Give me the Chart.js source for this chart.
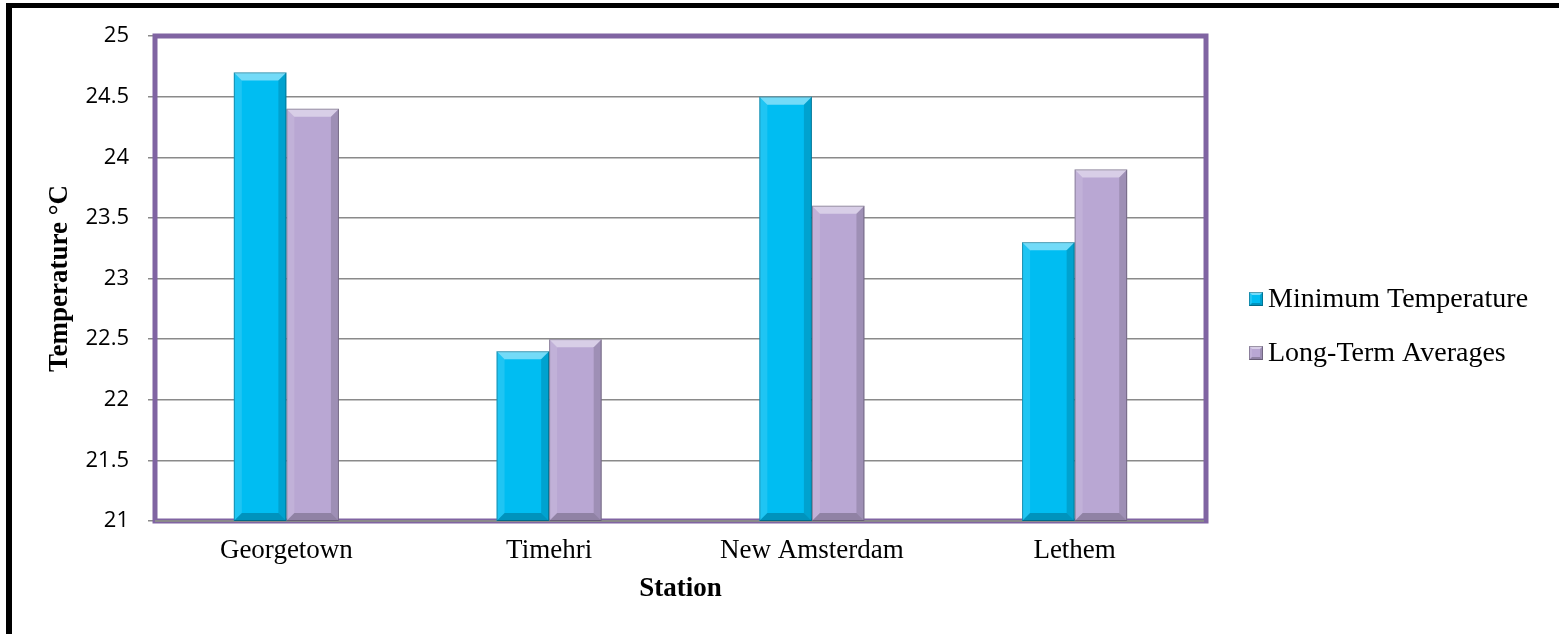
<!DOCTYPE html>
<html lang="en">
  <head>
    <meta charset="UTF-8" />
    <title>Minimum Temperature by Station</title>
    <script src="https://cdn.jsdelivr.net/npm/chart.js"></script>
    <style>
      body {
        margin: 0;
        background: #ffffff;
      }
      #wrap {
        position: relative;
        width: 1559px;
        height: 634px;
        overflow: hidden;
      }
      /* black frame of the figure (top and left edge only) */
      #frame {
        position: absolute;
        left: 6px;
        top: 3px;
        right: 0;
        bottom: 0;
        border-left: 6px solid #000;
        border-top: 5px solid #000;
        pointer-events: none;
      }
    </style>
  </head>
  <body>
    <div id="wrap">
      <canvas id="myChart" width="1559" height="634"></canvas>
      <div id="frame"></div>
    </div>
    <script>
      // stations
      var stations = ["Georgetown", "Timehri", "New Amsterdam", "Lethem"];

      // series values (°C)
      var minimumTemperature = [24.7, 22.4, 24.5, 23.3];
      var longTermAverages = [24.4, 22.5, 23.6, 23.9];

      // y axis tick labels
      var yTickLabels = ["21", "21.5", "22", "22.5", "23", "23.5", "24", "24.5", "25"];

      var serif = "'Liberation Serif', 'Times New Roman', serif";

      // draws a bevelled rectangle shading over an existing fill
      function bevel(ctx, l, t, r, b, s) {
        function poly(pts, color) {
          ctx.beginPath();
          ctx.moveTo(pts[0][0], pts[0][1]);
          for (var i = 1; i < pts.length; i++) ctx.lineTo(pts[i][0], pts[i][1]);
          ctx.closePath();
          ctx.fillStyle = color;
          ctx.fill();
        }
        if (b - t < 2 * s) s = (b - t) / 2;
        poly([[l, t], [r, t], [r - s, t + s], [l + s, t + s]], "rgba(255,255,255,0.45)");
        poly([[l, t], [l + s, t + s], [l + s, b - s], [l, b]], "rgba(255,255,255,0.12)");
        poly([[r, t], [r, b], [r - s, b - s], [r - s, t + s]], "rgba(0,0,0,0.14)");
        poly([[l, b], [l + s, b - s], [r - s, b - s], [r, b]], "rgba(0,0,0,0.22)");
        ctx.strokeStyle = "rgba(0,0,0,0.28)";
        ctx.lineWidth = 1;
        ctx.strokeRect(l + 0.5, t + 0.5, r - l - 1, b - t - 1);
      }

      // purple plot frame, drawn under the bars
      var plotFrame = {
        id: "plotFrame",
        beforeDatasetsDraw: function (chart) {
          var ctx = chart.ctx;
          var a = chart.chartArea;
          ctx.save();
          ctx.strokeStyle = "#8064a2";
          ctx.lineWidth = 5;
          ctx.strokeRect(a.left, a.top, a.right - a.left, a.bottom - a.top);
          ctx.strokeStyle = "#8a8a8a";
          ctx.lineWidth = 2;
          ctx.beginPath();
          ctx.moveTo(a.left, a.bottom);
          ctx.lineTo(a.right - 2, a.bottom);
          ctx.stroke();
          ctx.restore();
        },
      };

      // bevel effect on every bar (bars start below the axis minimum, so clamp to the plot)
      var barBevel = {
        id: "barBevel",
        afterDatasetsDraw: function (chart) {
          var ctx = chart.ctx;
          var a = chart.chartArea;
          ctx.save();
          chart.data.datasets.forEach(function (ds, i) {
            chart.getDatasetMeta(i).data.forEach(function (bar) {
              var p = bar.getProps(["x", "y", "base", "width"], true);
              var bottom = Math.min(p.base, a.bottom);
              bevel(ctx, p.x - p.width / 2, p.y, p.x + p.width / 2, bottom, 8);
            });
          });
          ctx.restore();
        },
      };

      // legend on the right side of the plot
      var sideLegend = {
        id: "sideLegend",
        afterDraw: function (chart, args, opts) {
          var ctx = chart.ctx;
          var a = chart.chartArea;
          ctx.save();
          ctx.font = opts.font;
          ctx.textBaseline = "middle";
          chart.data.datasets.forEach(function (ds, i) {
            var x = a.right + opts.offsetX;
            var y = a.top + opts.offsetY + i * opts.spacing;
            ctx.fillStyle = ds.backgroundColor;
            ctx.fillRect(x, y - 7, 14, 14);
            bevel(ctx, x, y - 7, x + 14, y + 7, 3);
            ctx.fillStyle = "#000";
            ctx.fillText(ds.label, x + 19, y + 1);
          });
          ctx.restore();
        },
      };

      var ctx = document.getElementById("myChart").getContext("2d");
      var myChart = new Chart(ctx, {
        type: "bar",
        data: {
          labels: stations,
          datasets: [
            {
              label: "Minimum Temperature",
              data: minimumTemperature,
              backgroundColor: "#00bdf2",
            },
            {
              label: "Long-Term Averages",
              data: longTermAverages,
              backgroundColor: "#b9a7d3",
            },
          ],
        },
        options: {
          responsive: false,
          animation: false,
          categoryPercentage: 0.4,
          barPercentage: 1.0,
          layout: {
            padding: { left: 0, top: 36, right: 353, bottom: 0 },
          },
          scales: {
            x: {
              grid: { display: false, drawTicks: false },
              border: { display: false },
              ticks: {
                color: "#000",
                padding: 14,
                font: { family: serif, size: 27 },
              },
              title: {
                display: true,
                text: "Station",
                color: "#000",
                padding: { top: 0, bottom: 29 },
                font: { family: serif, size: 27, weight: "bold" },
              },
              afterFit: function (scale) {
                scale.height = 113;
              },
            },
            y: {
              min: 21,
              max: 25,
              grid: {
                color: "#8a8a8a",
                lineWidth: 1.5,
                tickLength: 7,
              },
              border: { display: false },
              ticks: {
                stepSize: 0.5,
                color: "#000",
                padding: 19,
                font: { family: "'Open Sans', sans-serif", size: 22 },
                callback: function (value, index) {
                  return yTickLabels[index];
                },
              },
              title: {
                display: true,
                text: "Temperature °C",
                color: "#000",
                padding: { top: 44, bottom: 0 },
                font: { family: serif, size: 27, weight: "bold" },
              },
              afterFit: function (scale) {
                scale.width = 155;
              },
            },
          },
          plugins: {
            legend: { display: false },
            tooltip: { enabled: false },
            sideLegend: {
              font: "28px " + serif,
              offsetX: 43,
              offsetY: 263,
              spacing: 54,
            },
          },
        },
        plugins: [plotFrame, barBevel, sideLegend],
      });
    </script>
  </body>
</html>
